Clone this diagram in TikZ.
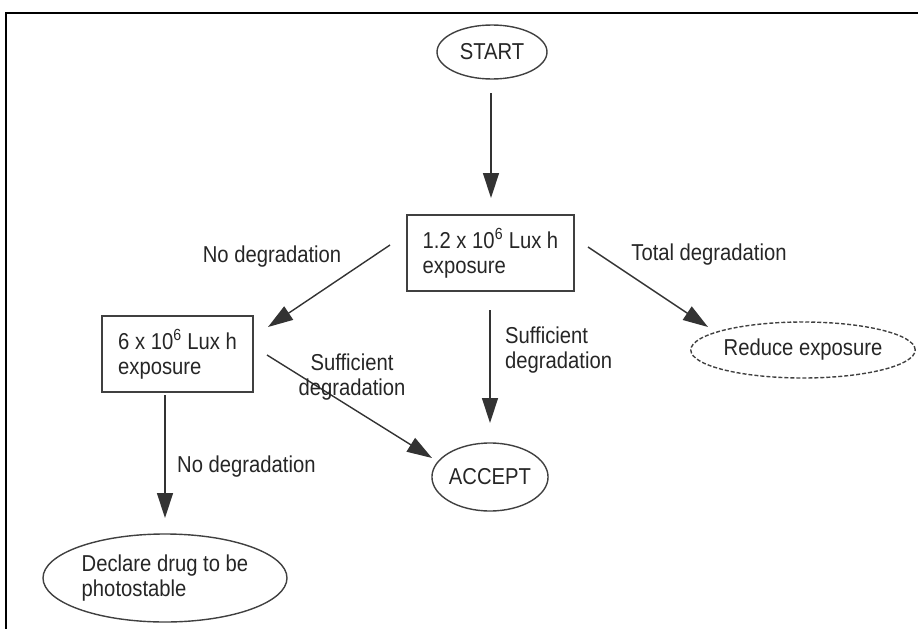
\documentclass[tikz,border=0pt]{standalone}
\usepackage{fontspec}
\setmainfont[FakeStretch=0.88]{Liberation Sans}
\usetikzlibrary{arrows.meta,shapes.geometric}
\begin{document}
\begin{tikzpicture}[x=1pt,y=-1pt,
  every node/.style={font=\fontsize{23}{25}\selectfont, text=black!85},
  oval/.style={draw=black!75, line width=1.4pt, ellipse, inner sep=0pt},
  boxnode/.style={draw=black!75, line width=1.8pt, rectangle, inner sep=0pt, minimum height=76pt, align=left},
  lbl/.style={inner sep=0pt},
  arr/.style={draw=black!80, line width=1.4pt, -{Triangle[length=25pt,width=16pt]}}
]
\useasboundingbox (0,0) rectangle (919,629);
\draw[line width=2pt] (6,629) -- (6,13) -- (918,13);

\node[oval, minimum width=110pt, minimum height=54pt] (start) at (492,52) {START};
\node[boxnode, minimum width=167pt] (box1) at (490.5,253) {1.2 x 10\textsuperscript{6} Lux h\\exposure};
\node[boxnode, minimum width=151pt] (box2) at (177.5,354) {6 x 10\textsuperscript{6} Lux h\\exposure};
\node[oval, minimum width=104pt, minimum height=68pt] (accept) at (490,477) {ACCEPT};
\node[oval, dash pattern=on 4pt off 2pt, minimum width=220pt, minimum height=56pt] (reduce) at (803,350) {Reduce exposure};
\node[oval, minimum width=244pt, minimum height=88pt, align=left] (declare) at (165,578) {Declare drug to be\\photostable};

\draw[arr] ([shift={(-1,41)}]start.center) -- ([shift={(0.5,-55)}]box1.center);
\draw[arr] ([shift={(-100.5,-8)}]box1.center) -- ([shift={(90.5,-27)}]box2.center);
\draw[arr] ([shift={(-0.5,57)}]box1.center) -- ([shift={(0,-54)}]accept.center);
\draw[arr] ([shift={(97.5,-6)}]box1.center) -- ([shift={(-95,-23)}]reduce.center);
\draw[arr] ([shift={(89.5,1)}]box2.center) -- ([shift={(-58,-19)}]accept.center);
\draw[arr] ([shift={(-12.5,41)}]box2.center) -- ([shift={(0,-60)}]declare.center);

\node[lbl] (l1) at (272,257) {No degradation};
\node[lbl] (l2) at (709,255) {Total degradation};
\node[lbl, anchor=west, align=left] (l3) at (505,350) {Sufficient\\degradation};
\node[lbl, align=center] (l4) at (352,377) {Sufficient\\degradation};
\node[lbl, anchor=west] (l5) at (177,467) {No degradation};
\end{tikzpicture}
\end{document}
